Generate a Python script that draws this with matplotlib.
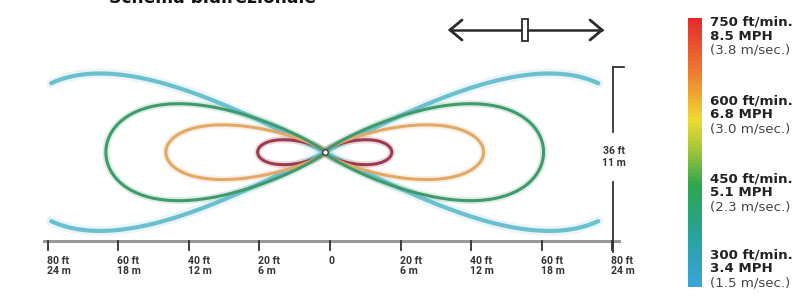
import numpy as np
import matplotlib
matplotlib.use("Agg")
import matplotlib.pyplot as plt
from matplotlib.colors import LinearSegmentedColormap
from matplotlib.patches import Rectangle

# ---------------- data ----------------
speeds_ftmin = [750, 600, 450, 300]
speeds_mph = [8.5, 6.8, 5.1, 3.4]
speeds_ms = [3.8, 3.0, 2.3, 1.5]
lobe_length_ft = [19, 45, 62, 90]        # throw length of each lobe (ft)
lobe_halfheight_ft = [2.6, 5.7, 10.1, 16.4]  # half spread of each lobe (ft)
lobe_shape = [0.6, 0.7, 0.8, 1.0]
lobe_colors = ["#9c3b4f", "#e2a866", "#3f9a6c", "#6cbfcf"]
blue_clip_ft = 77.5
tick_ft = [-80, -60, -40, -20, 0, 20, 40, 60, 80]
tick_ft_labels = ["80 ft", "60 ft", "40 ft", "20 ft", "0", "20 ft", "40 ft", "60 ft", "80 ft"]
tick_m_labels = ["24 m", "18 m", "12 m", "6 m", "", "6 m", "12 m", "18 m", "24 m"]
height_ft = 36
height_m = 11
center_x_ft = -1.5
center_y_ft = 18.5

# ---------------- figure ----------------
W, H = 811, 296
fig = plt.figure(figsize=(W / 100, H / 100), dpi=100)
fig.patch.set_facecolor("white")

# main axes in feet; mapping px = 330 + 3.53*ft, py = 241 - 4.8*ft
sx, sy = 3.53, 4.8
ax = fig.add_axes([0, 0, 1, 1])
ax.set_xlim((0 - 330) / sx, (W - 330) / sx)
ax.set_ylim((241 - H) / sy, 241 / sy)
ax.axis("off")


def g(t, a):
    v = t ** a * np.sqrt(np.clip(1 - t ** 2, 0, None))
    tm = np.sqrt(a / (1 + a))
    return v / (tm ** a * np.sqrt(1 - tm ** 2))


s = np.linspace(0, np.pi, 300)
t = (1 - np.cos(s)) / 2
for L, Hh, a, c in zip(lobe_length_ft[:3], lobe_halfheight_ft[:3], lobe_shape[:3], lobe_colors[:3]):
    xs = np.concatenate([t, t[::-1]]) * L
    ys = np.concatenate([g(t, a), -g(t[::-1], a)]) * Hh
    for sgn in (1, -1):
        ax.plot(center_x_ft + sgn * xs, center_y_ft + ys, color=c, lw=5, alpha=0.18,
                solid_capstyle="round", zorder=2)
        ax.plot(center_x_ft + sgn * xs, center_y_ft + ys, color=c, lw=2.2, zorder=3)

# outer (blue) lobe, clipped at the ends
L, Hh, a, c = lobe_length_ft[3], lobe_halfheight_ft[3], lobe_shape[3], lobe_colors[3]
xx = np.linspace(center_x_ft - blue_clip_ft, center_x_ft + blue_clip_ft, 600)
tt = np.abs(xx - center_x_ft) / L
for sgn in (1, -1):
    yy = center_y_ft + sgn * Hh * g(tt, a)
    ax.plot(xx, yy, color=c, lw=7, alpha=0.15, solid_capstyle="round", zorder=1)
    ax.plot(xx, yy, color=c, lw=3, solid_capstyle="round", zorder=2)

ax.plot([center_x_ft], [center_y_ft], marker="o", ms=4, mfc="white", mec="#333333",
        mew=0.9, zorder=5)

# distance axis
ax.plot([-81, 82], [0, 0], color="#9a9a9a", lw=2.2, zorder=4)
for xt, l1, l2 in zip(tick_ft, tick_ft_labels, tick_m_labels):
    ax.plot([xt, xt], [0, -1.9], color="#333333", lw=1.3, zorder=5)
    ax.text(xt - 0.3, -3.1, l1 + ("\n" + l2 if l2 else ""), ha="left", va="top",
            fontsize=7.6, fontweight="bold", color="#333333", linespacing=1.0,
            family=["Roboto", "DejaVu Sans"])

# height bracket
bx = 80.3
ax.plot([bx, bx], [-2.2, 12.3], color="#333333", lw=1.3, zorder=5)
ax.plot([bx, bx], [22.7, height_ft + 0.3], color="#333333", lw=1.3, zorder=5)
ax.plot([bx, bx + 3.0], [height_ft + 0.3, height_ft + 0.3], color="#333333", lw=1.3, zorder=5)
ax.text(bx + 0.2, 17.5, f"{height_ft} ft\n{height_m} m", ha="center", va="center",
        fontsize=7.6, fontweight="bold", color="#333333", linespacing=1.15,
        family=["Roboto", "DejaVu Sans"])

# overlay in pixel coordinates for decorations
ov = fig.add_axes([0, 0, 1, 1], zorder=10)
ov.set_xlim(0, W)
ov.set_ylim(H, 0)
ov.axis("off")
ov.patch.set_alpha(0)

ov.text(213, 3, "Schema bidirezionale", ha="center", va="baseline", fontsize=12.3,
        fontweight="bold", color="#111111")

ac = "#2a2a2a"
ov.plot([450, 602], [30, 30], color=ac, lw=1.8, solid_capstyle="round")
ov.plot([462, 450, 462], [20, 30, 40], color=ac, lw=2, solid_capstyle="round",
        solid_joinstyle="miter")
ov.plot([590, 602, 590], [20, 30, 40], color=ac, lw=2, solid_capstyle="round",
        solid_joinstyle="miter")
ov.add_patch(Rectangle((522, 19), 6, 22, facecolor="white", edgecolor=ac, lw=1.3, zorder=3))

# colour scale bar
cmap = LinearSegmentedColormap.from_list(
    "speed",
    [(0.0, "#e32b2b"), (0.2, "#ef7b2f"), (0.38, "#eedc33"), (0.5, "#9cc43a"),
     (0.62, "#2ea74c"), (0.8, "#27a399"), (1.0, "#3aa5dd")])
cb = fig.add_axes([688 / W, 1 - 287 / H, 14 / W, (287 - 18) / H])
cb.imshow(np.linspace(0, 1, 256)[:, None], aspect="auto", cmap=cmap)
cb.axis("off")

label_y = [22, 101, 179, 255]
for y0, fm, mph, ms in zip(label_y, speeds_ftmin, speeds_mph, speeds_ms):
    ov.text(710, y0, f"{fm} ft/min.", ha="left", va="center", fontsize=9.6,
            fontweight="bold", color="#222222")
    ov.text(710, y0 + 14, f"{mph:.1f} MPH", ha="left", va="center", fontsize=9.6,
            fontweight="bold", color="#222222")
    ov.text(710, y0 + 28, f"({ms:.1f} m/sec.)", ha="left", va="center", fontsize=9.6,
            color="#444444")

fig.savefig("out.png", dpi=100)
